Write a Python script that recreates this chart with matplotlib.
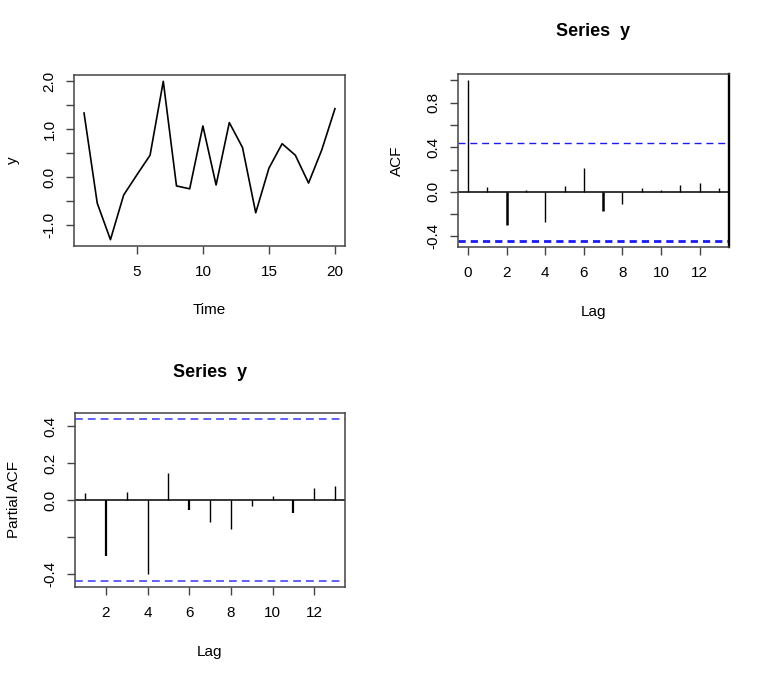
import matplotlib
matplotlib.use("Agg")
import matplotlib.pyplot as plt
import numpy as np

# ---- data ----
time = list(range(1, 21))
y = [1.34, -0.54, -1.30, -0.37, 0.05, 0.46, 2.00, -0.18, -0.24, 1.07,
     -0.16, 1.14, 0.62, -0.74, 0.19, 0.70, 0.46, -0.12, 0.57, 1.43]

acf_lags = list(range(0, 14))
acf_vals = [1.0, 0.042, -0.30, 0.012, -0.27, 0.05, 0.21, -0.17, -0.11,
            0.03, 0.02, 0.065, 0.08, 0.03]

pacf_lags = list(range(1, 14))
pacf_vals = [0.039, -0.307, 0.046, -0.40, 0.148, -0.057, -0.117, -0.159,
             -0.03, 0.02, -0.069, 0.063, 0.076]

conf = 1.96 / np.sqrt(len(y))

plt.rcParams['font.family'] = ['Liberation Sans', 'DejaVu Sans']
plt.rcParams['font.size'] = 11

W, H = 768, 679
fig = plt.figure(figsize=(W / 100, H / 100), dpi=100)

SPINE = '#444444'
TICKLEN = 6.0


def add_ax(l, t, r, b):
    return fig.add_axes([l / W, 1 - b / H, (r - l) / W, (b - t) / H])


def style(ax, ylab, xlab):
    for s in ax.spines.values():
        s.set_color(SPINE)
        s.set_linewidth(1.1)
    ax.tick_params(which='both', direction='out', length=TICKLEN, width=1.0,
                   color=SPINE, labelsize=11)
    ax.tick_params(axis='x', pad=8)
    ax.tick_params(axis='y', pad=6.5, labelrotation=90)
    for lab in ax.get_yticklabels():
        lab.set_va('center')
    ax.set_xlabel(xlab, fontsize=11)
    ax.set_ylabel(ylab, fontsize=11)
    ax.xaxis.set_label_coords(0.5, -0.375)
    ax.xaxis.label.set_va('center')
    ax.yaxis.set_label_coords(-0.226, 0.5)
    ax.yaxis.label.set_va('center')


# ---- time series ----
ax1 = add_ax(74, 75, 345, 246)
ax1.plot(time, y, color='black', lw=1.2)
rng = max(y) - min(y)
ax1.set_ylim(min(y) - 0.04 * rng, max(y) + 0.04 * rng)
ax1.set_xlim(1 - 0.04 * 19, 20 + 0.04 * 19)
ax1.set_xticks([5, 10, 15, 20])
ax1.set_yticks([-1.0, 0.0, 1.0, 2.0])
ax1.set_yticklabels(['-1.0', '0.0', '1.0', '2.0'])
ax1.yaxis.set_minor_locator(matplotlib.ticker.FixedLocator([-0.5, 0.5, 1.5]))
style(ax1, 'y', 'Time')

# ---- ACF ----
ax2 = add_ax(458, 74, 729, 247)
acf_w = [1.0] * len(acf_lags)
acf_w[2] = 1.8
acf_w[7] = 1.8
ax2.vlines(acf_lags, 0, acf_vals, colors='black', linewidths=acf_w)
ax2.axhline(0, color='black', lw=1.1)
ax2.axhline(conf, color='#1a1aff', lw=1.0, dashes=(5, 3.5))
ax2.axhline(-conf, color='#1a1aff', lw=2.0, dashes=(2.6, 1.8))
lo, hi = -conf, 1.0
ax2.set_ylim(lo - 0.04 * (hi - lo), hi + 0.04 * (hi - lo))
ax2.set_xlim(-0.04 * 13, 13 + 0.04 * 13)
ax2.set_xticks([0, 2, 4, 6, 8, 10, 12])
ax2.set_yticks([-0.4, 0.0, 0.4, 0.8])
ax2.set_yticklabels(['-0.4', '0.0', '0.4', '0.8'])
ax2.yaxis.set_minor_locator(matplotlib.ticker.FixedLocator([-0.2, 0.2, 0.6, 1.0]))
style(ax2, 'ACF', 'Lag')
ax2.spines['right'].set_linewidth(1.7)
ax2.spines['right'].set_color('black')
ax2.text(0.5, 1 + 42 / 173, 'Series  y', transform=ax2.transAxes,
         ha='center', va='center', fontsize=13, fontweight='bold')

# ---- PACF ----
ax3 = add_ax(75, 413, 345, 587)
pacf_w = [1.0] * len(pacf_lags)
pacf_w[1] = 1.6
pacf_w[5] = 1.6
pacf_w[10] = 1.6
ax3.vlines(pacf_lags, 0, pacf_vals, colors='black', linewidths=pacf_w)
ax3.axhline(0, color='black', lw=1.1)
ax3.axhline(conf, color='#6060ff', lw=1.4, dashes=(4, 2.6))
ax3.axhline(-conf, color='#6060ff', lw=1.4, dashes=(4, 2.6))
vals = pacf_vals + [conf, -conf]
lo, hi = min(vals), max(vals)
ax3.set_ylim(lo - 0.04 * (hi - lo), hi + 0.04 * (hi - lo))
ax3.set_xlim(1 - 0.04 * 12, 13 + 0.04 * 12)
ax3.set_xticks([2, 4, 6, 8, 10, 12])
ax3.set_yticks([-0.4, 0.0, 0.2, 0.4])
ax3.set_yticklabels(['-0.4', '0.0', '0.2', '0.4'])
ax3.yaxis.set_minor_locator(matplotlib.ticker.FixedLocator([-0.2]))
style(ax3, 'Partial ACF', 'Lag')
ax3.text(0.5, 1 + 41 / 174, 'Series  y', transform=ax3.transAxes,
         ha='center', va='center', fontsize=13, fontweight='bold')

fig.savefig('out.png', dpi=100)
